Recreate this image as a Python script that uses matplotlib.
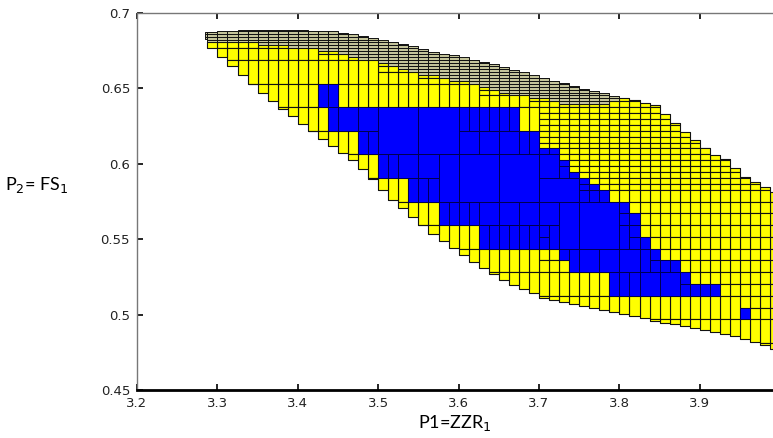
import numpy as np
import matplotlib
matplotlib.use("Agg")
import matplotlib.pyplot as plt
from matplotlib.patches import Rectangle
from matplotlib.collections import PatchCollection

# ---- data ----
# outer (yellow) set: upper and lower boundaries
XU = [3.285, 3.35, 3.44, 3.481, 3.523, 3.564, 3.589, 3.630, 3.673, 3.714,
      3.755, 3.797, 3.838, 3.863, 3.884, 3.909, 3.929, 3.946, 3.966, 3.991, 4.0]
YU = [0.687, 0.689, 0.688, 0.684, 0.680, 0.674, 0.672, 0.667, 0.661, 0.655,
      0.649, 0.644, 0.639, 0.627, 0.617, 0.607, 0.602, 0.592, 0.587, 0.580, 0.576]
XL = [3.285, 3.316, 3.369, 3.431, 3.481, 3.523, 3.581, 3.630, 3.673, 3.714,
      3.776, 3.817, 3.859, 3.900, 3.941, 3.991, 4.0]
YL = [0.684, 0.669, 0.644, 0.619, 0.600, 0.577, 0.551, 0.533, 0.520, 0.511,
      0.504, 0.500, 0.495, 0.491, 0.487, 0.479, 0.477]
# inner (blue) set: upper and lower boundaries
XBU = [3.3965, 3.4488, 3.4525, 3.5769, 3.6266, 3.6739, 3.6888, 3.7224, 3.7423,
       3.7796, 3.8132, 3.8318, 3.8592, 3.8965, 3.9289, 3.9313]
YBU = [0.6607, 0.6607, 0.6453, 0.6413, 0.6367, 0.6300, 0.6153, 0.6087, 0.5953,
       0.5820, 0.5707, 0.5520, 0.5367, 0.5220, 0.5153, 0.5073]
XBL = [3.3965, 3.4276, 3.4400, 3.4749, 3.4985, 3.5209, 3.5557, 3.5806, 3.6266,
       3.6925, 3.7224, 3.7423, 3.7759, 3.8169, 3.8629, 3.9313]
YBL = [0.6487, 0.6473, 0.6240, 0.6120, 0.6000, 0.5887, 0.5753, 0.5667, 0.5507,
       0.5487, 0.5400, 0.5240, 0.5220, 0.5107, 0.5087, 0.5073]
# small isolated inner piece near the right edge
XB2 = [3.954, 3.968]
YB2 = [0.494, 0.505]
# thickness of the finely split strip below the upper edge
XBAND = [3.285, 3.35, 3.45, 3.55, 3.65, 3.72, 3.77, 3.80]
TBAND = [0.004, 0.008, 0.012, 0.014, 0.014, 0.011, 0.005, 0.0]

XTICKS = [3.2, 3.3, 3.4, 3.5, 3.6, 3.7, 3.8, 3.9]
YTICKS = [0.45, 0.5, 0.55, 0.6, 0.65, 0.7]
XLIM = (3.2, 3.991)
YLIM = (0.45, 0.70)


def rng(xs, ys, x0, x1):
    a, b = max(x0, xs[0]), min(x1, xs[-1])
    if a >= b:
        return None
    pts = [a, b] + [k for k in xs if a < k < b]
    v = np.interp(pts, xs, ys)
    return v.min(), v.max()


def region_test(box, xu, yu, xl, yl):
    x0, x1, y0, y1 = box
    gu = rng(xu, yu, x0, x1)
    gl = rng(xl, yl, x0, x1)
    if gu is None or gl is None:
        return "out", None, None
    if gu[1] <= y0 or gl[0] >= y1:
        return "out", gu, gl
    inside = (x0 >= xu[0] and x1 <= xu[-1] and gu[0] >= y1 and gl[1] <= y0)
    return ("in" if inside else "part"), gu, gl


def in_inner(x, y):
    if XB2[0] <= x <= XB2[1] and YB2[0] <= y <= YB2[1]:
        return True
    if x < XBU[0] or x > XBU[-1]:
        return False
    return np.interp(x, XBL, YBL) <= y <= np.interp(x, XBU, YBU)


blue, yellow, thin = [], [], []
stack = [(3.2, 4.0, 0.45, 0.70)]
while stack:
    box = stack.pop()
    x0, x1, y0, y1 = box
    st, gu, gl = region_test(box, XU, YU, XL, YL)
    if st == "out":
        continue
    sti, _, _ = region_test(box, XBU, YBU, XBL, YBL)
    if sti == "in":
        blue.append(box)
        continue
    w, h = x1 - x0, y1 - y0
    xc, yc = 0.5 * (x0 + x1), 0.5 * (y0 + y1)
    ylow = np.interp(xc, XL, YL)
    if xc > 3.70 and yc > ylow + 0.02:
        ex, ey = (0.0126, 0.0040) if yc > 0.585 else (0.0126, 0.0079)
    else:
        ex, ey = 0.0126, 0.0157
    tb = rng(XBAND, TBAND, x0, x1)
    tmax = tb[1] if tb is not None else 0.0
    band = tmax > 0 and gu[0] - tmax < y1 and gu[1] > y0
    if w <= ex and h <= ey and (not band or h <= 0.0020):
        if in_inner(xc, yc) and not band:
            blue.append(box)
            continue
        cx0 = max(x0, XU[0])
        cy0 = max(y0, gl[0])
        cy1 = min(y1, gu[1])
        if cy1 <= cy0:
            continue
        b = (cx0, x1, cy0, cy1)
        (thin if band else yellow).append(b)
        continue
    if w > ex and h > ey:
        splitx = (w / ex) >= (h / ey)
    elif w > ex:
        splitx = True
    else:
        splitx = False
    if splitx:
        xm = 0.5 * (x0 + x1)
        stack += [(x0, xm, y0, y1), (xm, x1, y0, y1)]
    else:
        ym = 0.5 * (y0 + y1)
        stack += [(x0, x1, y0, ym), (x0, x1, ym, y1)]

fig = plt.figure(figsize=(7.73, 4.38), dpi=100)
ax = fig.add_axes([137 / 773, 1 - 390 / 438, 636 / 773, 377 / 438])


def rects(lst):
    return [Rectangle((b[0], b[2]), b[1] - b[0], b[3] - b[2]) for b in lst]


ax.add_collection(PatchCollection(rects(yellow), facecolor="#ffff00",
                                  edgecolor="#111111", linewidth=0.8))
ax.add_collection(PatchCollection(rects(thin), facecolor="#c4c49a",
                                  edgecolor="#111111", linewidth=0.7))
ax.add_collection(PatchCollection(rects(blue), facecolor="#0000ff",
                                  edgecolor="#000050", linewidth=0.7))

ax.set_xlim(*XLIM)
ax.set_ylim(*YLIM)
ax.set_xticks(XTICKS)
ax.set_yticks(YTICKS)
ax.set_xticklabels([f"{v:g}" for v in XTICKS])
ax.set_yticklabels([f"{v:g}" for v in YTICKS])
ax.tick_params(direction="in", top=True, right=False, length=4, width=1.2,
               labelsize=9.5, labelcolor="#222222", pad=5)
for s in ["top", "left"]:
    ax.spines[s].set_color("#777777")
    ax.spines[s].set_linewidth(1.0)
ax.spines["bottom"].set_color("black")
ax.spines["bottom"].set_linewidth(2.0)
ax.spines["right"].set_visible(False)

ax.set_xlabel("P1=ZZR$_1$", fontsize=13, family="Lato", labelpad=2)
fig.text(5 / 773, 1 - 185 / 438, "P$_2$= FS$_1$", fontsize=13, family="Lato",
         ha="left", va="center")

fig.savefig("out.png", dpi=100)
